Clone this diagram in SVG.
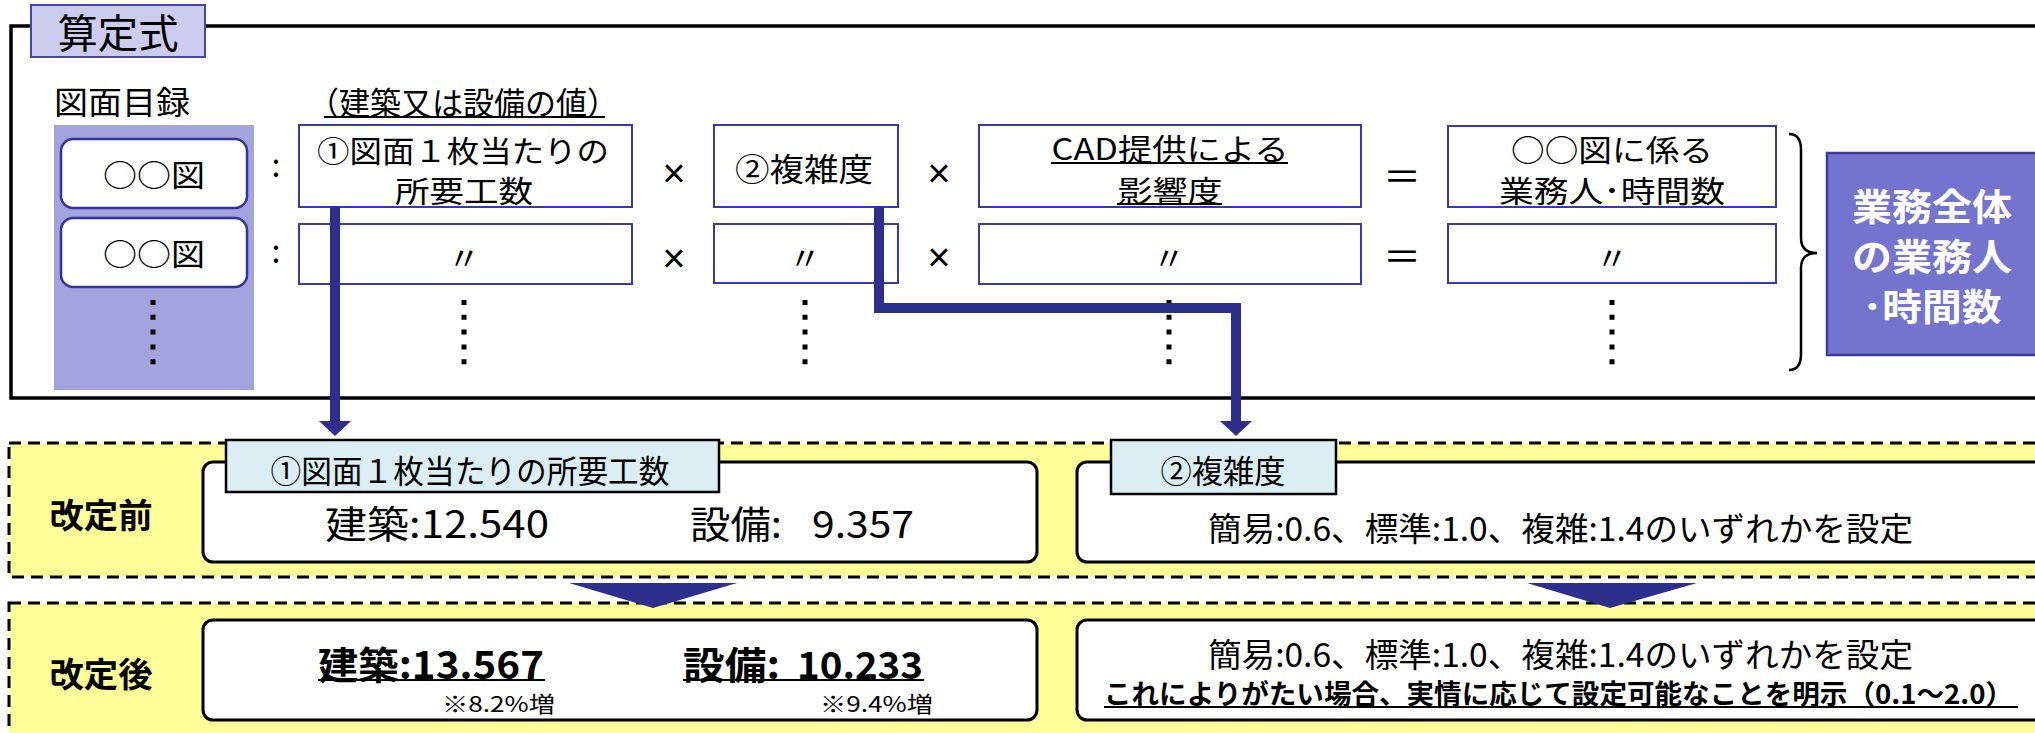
<svg xmlns="http://www.w3.org/2000/svg" width="2035" height="733" viewBox="0 0 2035 733">
<style>
text{font-family:"Noto Sans CJK JP","Noto Sans",sans-serif;fill:#000;dominant-baseline:central;text-anchor:middle}
.t34{font-size:32px}
.t2{font-size:30px}
.t32{font-size:32px}
.st{text-anchor:start}
.box{fill:#fff;stroke:#3a3aa6;stroke-width:2}
.rbox{fill:#fff;stroke:#333399;stroke-width:2.5}
.dots{stroke:#000;stroke-width:5;stroke-dasharray:5 9.8}
.ul{stroke:#000;stroke-width:2}
.region{fill:#ffff99;stroke:#000;stroke-width:3;stroke-dasharray:12 7}
.wbox{fill:#fff;stroke:#000;stroke-width:3}
.label{fill:#daeef3;stroke:#000;stroke-width:2.5}
.op{font-family:"Liberation Sans",sans-serif;font-size:40px}
.conn{fill:none;stroke:#2e2e8c;stroke-width:10}
.head{fill:#2e2e8c}
.wt{font-size:37px;font-weight:bold;fill:#fff}
</style>

<g id="frame">
  <path d="M2045,26 H11 V398 H2045" fill="none" stroke="#000" stroke-width="3.5"/>
</g>
<g id="title">
  <rect x="31" y="5" width="174" height="52" fill="#ccccee" stroke="#4444aa" stroke-width="2"/>
  <text x="118" y="31" style="font-size:40px" textLength="121" lengthAdjust="spacingAndGlyphs">算定式</text>
</g>

<g id="drawing-list">
  <text class="t32 st" x="54" y="100" textLength="136" lengthAdjust="spacingAndGlyphs">図面目録</text>
  <rect x="54" y="125" width="200" height="265" fill="#a3a3de"/>
  <rect class="rbox" x="61" y="139" width="186" height="69" rx="12"/>
  <text class="t2" x="154" y="173" textLength="102" lengthAdjust="spacingAndGlyphs">○○図</text>
  <rect class="rbox" x="61" y="218" width="186" height="69" rx="12"/>
  <text class="t2" x="154" y="252" textLength="102" lengthAdjust="spacingAndGlyphs">○○図</text>
  <line class="dots" x1="153" y1="300" x2="153" y2="366"/>
</g>

<g id="colons">
  <text class="t32" x="276" y="163">:</text>
  <text class="t32" x="276" y="249">:</text>
</g>

<g id="col-value">
  <text class="t32 st" x="308" y="101" textLength="310" lengthAdjust="spacingAndGlyphs">（建築又は設備の値）</text>
  <line class="ul" x1="324" y1="117" x2="605" y2="117"/>
  <rect class="box" x="299" y="125" width="333" height="82"/>
  <text class="t2" x="463" y="149" textLength="292" lengthAdjust="spacingAndGlyphs">①図面１枚当たりの</text>
  <text class="t2" x="464" y="189" textLength="138" lengthAdjust="spacingAndGlyphs">所要工数</text>
  <rect class="box" x="299" y="224" width="333" height="60"/>
  <text class="t34" x="464" y="256">〃</text>
  <line class="dots" x1="464" y1="300" x2="464" y2="366"/>
</g>

<g id="operators">
  <text class="op" x="674" y="173">×</text>
  <text class="op" x="674" y="258">×</text>
  <text class="op" x="939" y="173">×</text>
  <text class="op" x="939" y="257">×</text>
  <text x="1402" y="173" style="font-size:38px">＝</text>
  <text x="1402" y="253" style="font-size:38px">＝</text>
</g>

<g id="col-complexity">
  <rect class="box" x="714" y="125" width="184" height="82"/>
  <text class="t34" x="804" y="167" textLength="138" lengthAdjust="spacingAndGlyphs">②複雑度</text>
  <rect class="box" x="714" y="224" width="184" height="59"/>
  <text class="t34" x="805" y="256">〃</text>
  <line class="dots" x1="805" y1="300" x2="805" y2="366"/>
</g>

<g id="col-cad">
  <rect class="box" x="979" y="125" width="382" height="82"/>
  <text class="t2" x="1170" y="147" textLength="237" lengthAdjust="spacingAndGlyphs">CAD提供による</text>
  <line class="ul" x1="1051" y1="163" x2="1288" y2="163"/>
  <text class="t2" x="1170" y="189" textLength="105" lengthAdjust="spacingAndGlyphs">影響度</text>
  <line class="ul" x1="1117" y1="204" x2="1222" y2="204"/>
  <rect class="box" x="979" y="224" width="382" height="60"/>
  <text class="t34" x="1169" y="256">〃</text>
  <line class="dots" x1="1169" y1="300" x2="1169" y2="366"/>
</g>

<g id="col-result">
  <rect class="box" x="1448" y="126" width="328" height="81"/>
  <text class="t2" x="1612" y="148" textLength="202" lengthAdjust="spacingAndGlyphs">○○図に係る</text>
  <text class="t2" x="1612" y="189" textLength="226" lengthAdjust="spacingAndGlyphs">業務人･時間数</text>
  <rect class="box" x="1448" y="224" width="328" height="59"/>
  <text class="t34" x="1612" y="256">〃</text>
  <line class="dots" x1="1612" y1="300" x2="1612" y2="366"/>
</g>

<g id="brace">
  <path d="M1789,134 Q1801,134 1801,150 V238 Q1801,253 1817,253 Q1801,253 1801,268 V354 Q1801,370 1789,370" fill="none" stroke="#000" stroke-width="2.5"/>
</g>

<g id="total">
  <rect x="1827" y="153" width="230" height="202" fill="#7474cf" stroke="#3a3aa0" stroke-width="2.5"/>
  <text class="wt" x="1932" y="205" textLength="160" lengthAdjust="spacingAndGlyphs">業務全体</text>
  <text class="wt" x="1932" y="255" textLength="160" lengthAdjust="spacingAndGlyphs">の業務人</text>
  <text class="wt" x="1932" y="305" textLength="139" lengthAdjust="spacingAndGlyphs">･時間数</text>
</g>

<g id="region-before">
  <rect class="region" x="9" y="443" width="2040" height="134"/>
  <text x="101" y="513" style="font-size:34px;font-weight:bold" textLength="103" lengthAdjust="spacingAndGlyphs">改定前</text>
</g>
<g id="region-after">
  <rect class="region" x="9" y="603" width="2040" height="140"/>
  <text x="101" y="672" style="font-size:34px;font-weight:bold" textLength="103" lengthAdjust="spacingAndGlyphs">改定後</text>
</g>

<g id="before-hours">
  <rect class="wbox" x="203" y="462" width="834" height="100" rx="10"/>
  <text class="st" x="325" y="521" style="font-size:38px" textLength="224" lengthAdjust="spacingAndGlyphs">建築:12.540</text>
  <text class="st" x="690" y="521" style="font-size:38px" textLength="92" lengthAdjust="spacingAndGlyphs">設備:</text>
  <text class="st" x="812" y="521" style="font-size:38px" textLength="102" lengthAdjust="spacingAndGlyphs">9.357</text>
</g>
<g id="label-hours">
  <rect class="label" x="226" y="440" width="493" height="52"/>
  <text x="470" y="469" style="font-size:32px" textLength="399" lengthAdjust="spacingAndGlyphs">①図面１枚当たりの所要工数</text>
</g>

<g id="before-complexity">
  <rect class="wbox" x="1077" y="462" width="980" height="100" rx="10"/>
  <text class="st" x="1208" y="527" style="font-size:33px" textLength="705" lengthAdjust="spacingAndGlyphs">簡易:0.6、標準:1.0、複雑:1.4のいずれかを設定</text>
</g>
<g id="label-complexity">
  <rect class="label" x="1111" y="440" width="225" height="54"/>
  <text x="1223" y="469" style="font-size:32px" textLength="125" lengthAdjust="spacingAndGlyphs">②複雑度</text>
</g>

<g id="after-hours">
  <rect class="wbox" x="203" y="620" width="834" height="100" rx="10"/>
  <text class="st" x="318" y="662" style="font-size:38px;font-weight:bold" textLength="226" lengthAdjust="spacingAndGlyphs">建築:13.567</text>
  <line class="ul" x1="318" y1="680" x2="545" y2="680"/>
  <text class="st" x="683" y="662" style="font-size:38px;font-weight:bold" textLength="97" lengthAdjust="spacingAndGlyphs">設備:</text>
  <text class="st" x="797" y="662" style="font-size:38px;font-weight:bold" textLength="126" lengthAdjust="spacingAndGlyphs">10.233</text>
  <line class="ul" x1="683" y1="680" x2="924" y2="680"/>
  <text class="st" x="442" y="702" style="font-size:22px" textLength="113" lengthAdjust="spacingAndGlyphs">※8.2%増</text>
  <text class="st" x="820" y="702" style="font-size:22px" textLength="113" lengthAdjust="spacingAndGlyphs">※9.4%増</text>
</g>

<g id="after-complexity">
  <rect class="wbox" x="1077" y="620" width="980" height="100" rx="10"/>
  <text class="st" x="1208" y="653" style="font-size:33px" textLength="705" lengthAdjust="spacingAndGlyphs">簡易:0.6、標準:1.0、複雑:1.4のいずれかを設定</text>
  <text class="st" x="1104" y="692" style="font-size:27px;font-weight:bold" textLength="909" lengthAdjust="spacingAndGlyphs">これによりがたい場合、実情に応じて設定可能なことを明示（0.1～2.0）</text>
  <line class="ul" x1="1104" y1="707" x2="2018" y2="707"/>
</g>

<g id="connectors">
  <path class="conn" d="M335,207 V423"/>
  <polygon class="head" points="319,421 351,421 335,436"/>
  <path class="conn" d="M879,207 V308 H1236 V423"/>
  <polygon class="head" points="1220,421 1252,421 1236,436"/>
  <polygon class="head" points="569,583 737,583 653,608"/>
  <polygon class="head" points="1527,583 1697,583 1610,608"/>
</g>
</svg>
